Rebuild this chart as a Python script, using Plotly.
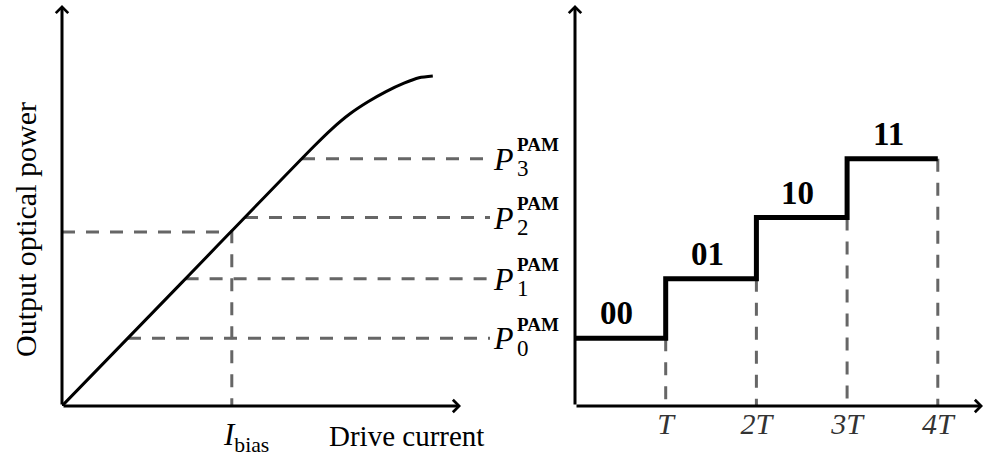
import plotly.graph_objects as go

# ---------------- data ----------------
curve_current = [0, 2.0, 4.2, 4.5, 4.8, 5.1, 5.4, 5.7, 5.95, 6.18]
curve_power = [0, 2.06, 4.33, 4.62, 4.87, 5.07, 5.24, 5.38, 5.47, 5.5]
pam_levels = [1.13, 2.12, 3.14, 4.12]
level_currents = [1.10, 2.06, 3.05, 4.00]
level_names = ["0", "1", "2", "3"]
bias_current = 2.83
bias_power = 2.90
symbol_times = [0, 1, 2, 3, 4]
symbol_bits = ["00", "01", "10", "11"]
tick_values = [1, 2, 3, 4]
tick_labels = ["T", "2T", "3T", "4T"]

# ---------------- layout geometry ----------------
W, H = 985, 456
PX_L = 60.0          # px per unit, left panel (both axes)
PX_T = 90.7          # px per T, right panel
X0_L, X0_R, Y0 = 62, 575, 406
LEFT_END = 492
DASH_END = (490 - X0_L) / PX_L
Y_TOP = (Y0 - 5) / PX_L
XL_TIP = (461 - X0_L) / PX_L
XR_TIP = (983 - X0_R) / PX_T

SERIF = "Liberation Serif, Times New Roman, serif"
DASH = "13px,11px"
GRAY = "#666666"

fig = go.Figure()

# left: horizontal dashed level lines
for lv, cur in zip(pam_levels, level_currents):
    fig.add_trace(go.Scatter(x=[cur, DASH_END], y=[lv, lv], mode="lines",
                             line=dict(color=GRAY, width=3, dash=DASH),
                             xaxis="x", yaxis="y", hoverinfo="skip"))
# bias dashed lines
fig.add_trace(go.Scatter(x=[0, bias_current, bias_current], y=[bias_power, bias_power, 0],
                         mode="lines", line=dict(color=GRAY, width=3, dash=DASH),
                         xaxis="x", yaxis="y", hoverinfo="skip"))
# L-I curve
fig.add_trace(go.Scatter(x=curve_current, y=curve_power, mode="lines",
                         line=dict(color="black", width=3, shape="spline", smoothing=0.8),
                         xaxis="x", yaxis="y", hoverinfo="skip"))

# right: vertical dashed lines
for t, lv in zip(symbol_times[1:], pam_levels):
    fig.add_trace(go.Scatter(x=[t, t], y=[lv, 0], mode="lines",
                             line=dict(color=GRAY, width=3, dash=DASH),
                             xaxis="x2", yaxis="y2", hoverinfo="skip"))
# step waveform
fig.add_trace(go.Scatter(x=symbol_times, y=pam_levels + [pam_levels[-1]], mode="lines",
                         line=dict(color="black", width=5, shape="hv"),
                         xaxis="x2", yaxis="y2", hoverinfo="skip"))

ann = []
# axis arrows
def arrow(xr, yr, x, y):
    return dict(xref=xr, yref=yr, axref=xr, ayref=yr, x=x, y=y, ax=0, ay=0,
                text="", showarrow=True, arrowhead=4, arrowsize=0.8,
                arrowwidth=3, arrowcolor="black", standoff=0)

ann += [arrow("x", "y", 0, Y_TOP), arrow("x", "y", XL_TIP, 0),
        arrow("x2", "y2", 0, Y_TOP), arrow("x2", "y2", XR_TIP, 0)]

# P labels: italic P, then stacked superscript "PAM" over subscript index
for name, lv in zip(level_names, pam_levels):
    ann.append(dict(xref="x2", yref="y2", x=0, y=lv, xanchor="right", yanchor="middle",
                    xshift=-60, yshift=0, text="<i>P</i>", showarrow=False, borderpad=0,
                    font=dict(family=SERIF, size=32, color="black")))
    stacked = ('<span style="font-size:19px"><b>PAM</b></span><br>'
               '<span style="font-size:23px">%s</span>' % name)
    ann.append(dict(xref="x2", yref="y2", x=0, y=lv, xanchor="left", yanchor="middle",
                    align="left", xshift=-59, yshift=1, text=stacked, showarrow=False,
                    borderpad=0, font=dict(family=SERIF, size=19, color="black")))

# bit labels
for t, bits, lv in zip(symbol_times, symbol_bits, pam_levels):
    ann.append(dict(xref="x2", yref="y2", x=t + 0.5, y=lv, xanchor="center", yanchor="middle",
                    xshift=-4, yshift=25, text="<b>%s</b>" % bits, showarrow=False,
                    font=dict(family=SERIF, size=33, color="black")))

# Ibias label
ann.append(dict(xref="x", yref="y", x=bias_current, y=0, xanchor="left", yanchor="middle",
                xshift=-11, yshift=-31, text="<i>I</i><sub>bias</sub>", showarrow=False,
                font=dict(family=SERIF, size=31, color="black")))
# Drive current
ann.append(dict(xref="paper", yref="paper", x=406 / W, y=(H - 436) / H, xanchor="center",
                yanchor="middle", text="Drive current", showarrow=False,
                font=dict(family=SERIF, size=29, color="black")))
# Output optical power
ann.append(dict(xref="paper", yref="paper", x=25 / W, y=(H - 230) / H, xanchor="center",
                yanchor="middle", text="Output optical power", textangle=-90, showarrow=False,
                font=dict(family=SERIF, size=30, color="black")))

axis_common = dict(showgrid=False, zeroline=False, showline=False, fixedrange=True)
fig.update_layout(
    width=W, height=H, margin=dict(l=0, r=0, t=0, b=0),
    paper_bgcolor="white", plot_bgcolor="white", showlegend=False,
    xaxis=dict(domain=[X0_L / W, LEFT_END / W], range=[0, (LEFT_END - X0_L) / PX_L],
               showticklabels=False, ticks="", anchor="y", **axis_common),
    yaxis=dict(domain=[(H - Y0) / H, 1], range=[0, Y0 / PX_L],
               showticklabels=False, ticks="", anchor="x", **axis_common),
    xaxis2=dict(domain=[X0_R / W, 1], range=[0, (W - X0_R) / PX_T],
                tickmode="array", tickvals=tick_values,
                ticktext=["<i>%s</i>" % s for s in tick_labels], ticks="",
                ticklabelstandoff=-3,
                tickfont=dict(family=SERIF, size=30, color="#333333"),
                anchor="y2", **axis_common),
    yaxis2=dict(domain=[(H - Y0) / H, 1], range=[0, Y0 / PX_L],
                showticklabels=False, ticks="", anchor="x2", **axis_common),
    annotations=ann,
)

fig.write_html("out.html")
